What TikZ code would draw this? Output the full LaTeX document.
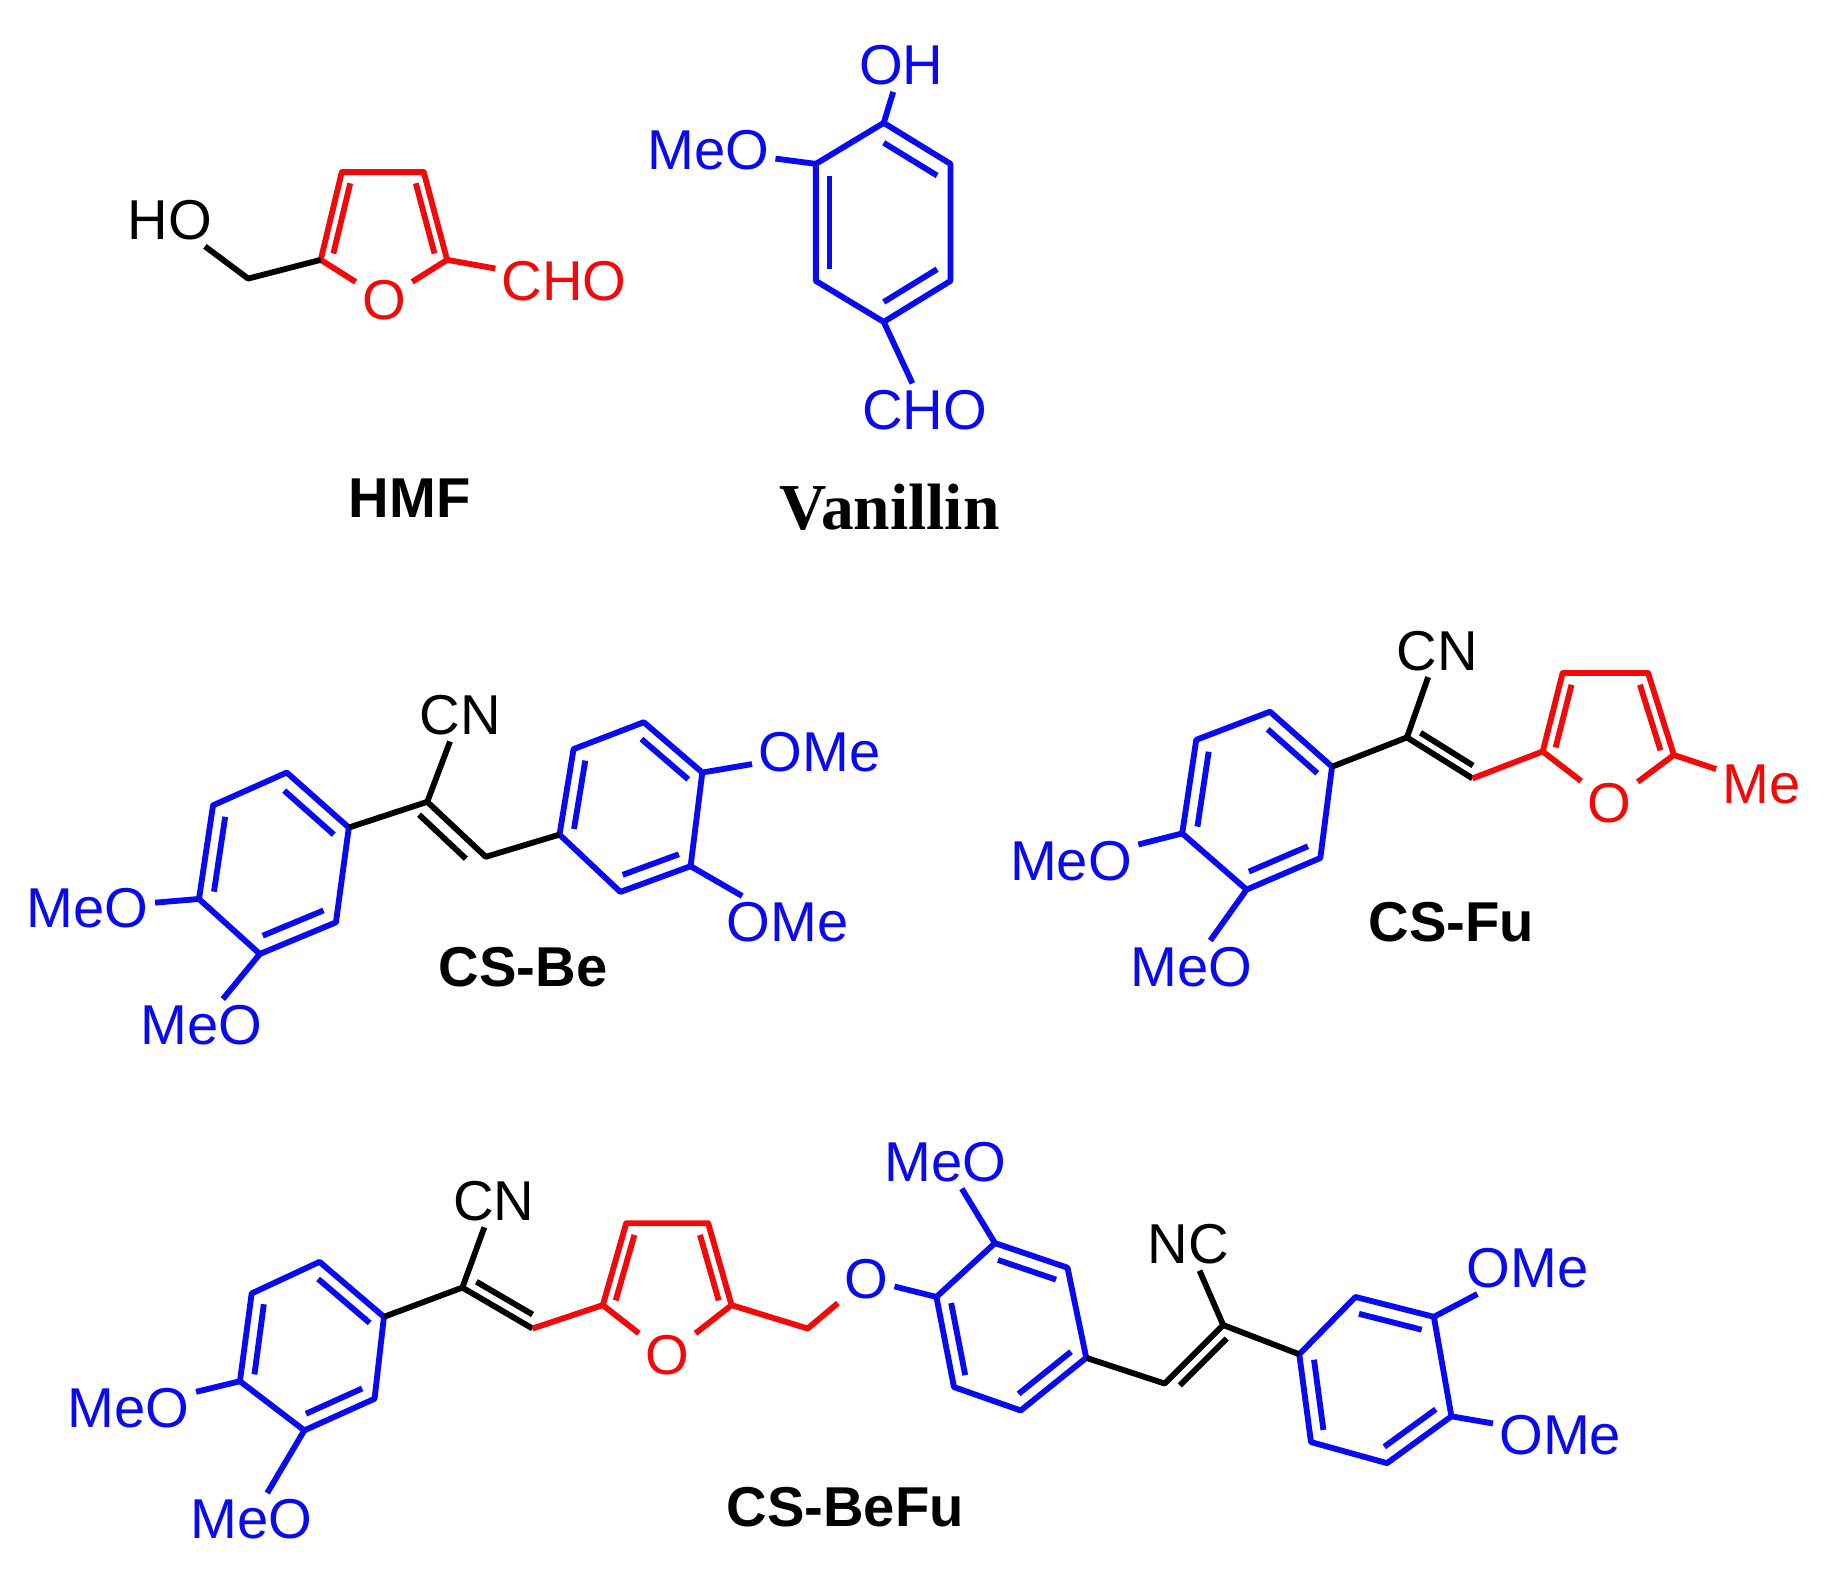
\documentclass[tikz,border=0pt]{standalone}
\usepackage{fontspec}
\setmainfont{Liberation Sans}
\newfontfamily\serifv{Liberation Serif}
\usetikzlibrary{calc}
\definecolor{cb}{RGB}{10,10,240}
\definecolor{cr}{RGB}{240,10,10}
\newcommand{\dbx}[3]{\draw ($(#1)!0.2!(#3)$) -- ($(#2)!0.2!(#3)$);}
\begin{document}
\begin{tikzpicture}[x=0.5pt,y=-0.5pt,line width=2.5pt,line join=round,
  atm/.style={inner sep=1.5pt,font=\fontsize{24}{27}\selectfont},
  nm/.style={font=\fontsize{24}{28}\selectfont\bfseries}]
\useasboundingbox (0,0) rectangle (1560,1340);
% ---------- HMF ----------
\begin{scope}[cr]
\coordinate (h2) at (274,222); \coordinate (h3) at (292,147); \coordinate (h4) at (362,147); \coordinate (h5) at (382,222);
\node[atm,cr] (hO) at (328,256) {O};
\coordinate (hc) at (328,195);
\draw (hO) -- (h2) -- (h3) -- (h4) -- (h5) -- (hO);
\dbx{h2}{h3}{hc} \dbx{h4}{h5}{hc}
\node[atm,cr] (hcho) at (482,240) {CHO};
\draw (h5) -- (hcho);
\end{scope}
\node[atm] (hho) at (145,188) {HO};
\coordinate (hch2) at (212,238);
\draw (hho) -- (hch2) -- (h2);
\node[nm] (hmf) at (350,426) {HMF};
% ---------- Vanillin ----------
\begin{scope}[cb]
\coordinate (v1) at (755,105); \coordinate (v2) at (812,140); \coordinate (v3) at (812,240);
\coordinate (v4) at (755,275); \coordinate (v5) at (697,240); \coordinate (v6) at (697,140);
\coordinate (vc) at (755,190);
\draw (v1)--(v2)--(v3)--(v4)--(v5)--(v6)--cycle;
\dbx{v1}{v2}{vc} \dbx{v3}{v4}{vc} \dbx{v5}{v6}{vc}
\node[atm,cb] (voh) at (770,56) {OH};
\node[atm,cb] (vmeo) at (605,128) {MeO};
\node[atm,cb] (vcho) at (790,350) {CHO};
\draw (v1) -- (voh); \draw (v6) -- (vmeo); \draw (v4) -- (vcho);
\end{scope}
\node[font=\fontsize{28}{32}\selectfont\serifv\bfseries] (van) at (760,433) {Vanillin};
% ---------- CS-Be ----------
\begin{scope}[cb]
\coordinate (a1) at (245,660); \coordinate (a2) at (298,707); \coordinate (a3) at (287,788);
\coordinate (a4) at (222,815); \coordinate (a5) at (170,768); \coordinate (a6) at (182,688);
\coordinate (ac) at (234,737);
\draw (a1)--(a2)--(a3)--(a4)--(a5)--(a6)--cycle;
\dbx{a1}{a2}{ac} \dbx{a3}{a4}{ac} \dbx{a5}{a6}{ac}
\node[atm,cb] (am1) at (75,776) {MeO};
\node[atm,cb] (am2) at (172,876) {MeO};
\draw (a5) -- (am1); \draw (a4) -- (am2);
\coordinate (b1) at (478,713); \coordinate (b2) at (490,640); \coordinate (b3) at (550,617);
\coordinate (b4) at (600,660); \coordinate (b5) at (590,740); \coordinate (b6) at (530,762);
\coordinate (bc) at (540,689);
\draw (b1)--(b2)--(b3)--(b4)--(b5)--(b6)--cycle;
\dbx{b3}{b4}{bc} \dbx{b5}{b6}{bc} \dbx{b1}{b2}{bc}
\node[atm,cb] (bm1) at (700,643) {OMe};
\node[atm,cb] (bm2) at (673,788) {OMe};
\draw (b4) -- (bm1); \draw (b5) -- (bm2);
\end{scope}
\coordinate (ca) at (365,685); \coordinate (cb1) at (415,732); \coordinate (cx) at (330,740);
\node[atm] (acn) at (393,611) {CN};
\draw (a2) -- (ca) -- (cb1) -- (b1); \draw (ca) -- (acn);
\dbx{ca}{cb1}{cx}
\node[nm] (csbe) at (447,826) {CS-Be};
% ---------- CS-Fu ----------
\begin{scope}[cb]
\coordinate (f1) at (1085,608); \coordinate (f2) at (1138,655); \coordinate (f3) at (1128,733);
\coordinate (f4) at (1065,760); \coordinate (f5) at (1010,712); \coordinate (f6) at (1022,632);
\coordinate (fc) at (1075,683);
\draw (f1)--(f2)--(f3)--(f4)--(f5)--(f6)--cycle;
\dbx{f1}{f2}{fc} \dbx{f3}{f4}{fc} \dbx{f5}{f6}{fc}
\node[atm,cb] (fm1) at (915,736) {MeO};
\node[atm,cb] (fm2) at (1018,826) {MeO};
\draw (f5) -- (fm1); \draw (f4) -- (fm2);
\end{scope}
\begin{scope}[cr]
\coordinate (g2) at (1318,642); \coordinate (g3) at (1335,575); \coordinate (g4) at (1408,575); \coordinate (g5) at (1430,645);
\node[atm,cr] (gO) at (1375,686) {O};
\coordinate (gc) at (1373,625);
\draw (gO) -- (g2) -- (g3) -- (g4) -- (g5) -- (gO);
\dbx{g2}{g3}{gc} \dbx{g4}{g5}{gc}
\node[atm,cr] (gme) at (1505,670) {Me};
\draw (g5) -- (gme);
\end{scope}
\coordinate (fa) at (1202,630); \coordinate (fb) at (1258,665); \coordinate (fx) at (1260,610);
\node[atm] (fcn) at (1228,556) {CN};
\draw (f2) -- (fa) -- (fb); \draw (fa) -- (fcn);
\draw[cr] (fb) -- (g2);
\dbx{fa}{fb}{fx}
\node[nm] (csfu) at (1240,788) {CS-Fu};
% ---------- CS-BeFu ----------
\begin{scope}[cb]
\coordinate (p1) at (273,1078); \coordinate (p2) at (328,1125); \coordinate (p3) at (320,1195);
\coordinate (p4) at (260,1222); \coordinate (p5) at (205,1180); \coordinate (p6) at (215,1105);
\coordinate (pc) at (267,1151);
\draw (p1)--(p2)--(p3)--(p4)--(p5)--(p6)--cycle;
\dbx{p1}{p2}{pc} \dbx{p3}{p4}{pc} \dbx{p5}{p6}{pc}
\node[atm,cb] (pm1) at (110,1203) {MeO};
\node[atm,cb] (pm2) at (215,1298) {MeO};
\draw (p5) -- (pm1); \draw (p4) -- (pm2);
\coordinate (q1) at (800,1108); \coordinate (q2) at (850,1062); \coordinate (q3) at (912,1083);
\coordinate (q4) at (928,1160); \coordinate (q5) at (872,1205); \coordinate (q6) at (815,1185);
\coordinate (qc) at (863,1134);
\draw (q1)--(q2)--(q3)--(q4)--(q5)--(q6)--cycle;
\dbx{q2}{q3}{qc} \dbx{q4}{q5}{qc} \dbx{q6}{q1}{qc}
\node[atm,cb] (qm) at (808,993) {MeO};
\draw (q2) -- (qm);
\node[atm,cb] (qo) at (740,1093) {O};
\draw (qo) -- (q1);
\coordinate (r1) at (1110,1157); \coordinate (r2) at (1158,1108); \coordinate (r3) at (1225,1125);
\coordinate (r4) at (1240,1210); \coordinate (r5) at (1185,1250); \coordinate (r6) at (1120,1232);
\coordinate (rc) at (1173,1180);
\draw (r1)--(r2)--(r3)--(r4)--(r5)--(r6)--cycle;
\dbx{r2}{r3}{rc} \dbx{r4}{r5}{rc} \dbx{r6}{r1}{rc}
\node[atm,cb] (rm1) at (1305,1083) {OMe};
\node[atm,cb] (rm2) at (1333,1226) {OMe};
\draw (r3) -- (rm1); \draw (r4) -- (rm2);
\end{scope}
\begin{scope}[cr]
\coordinate (u2) at (515,1115); \coordinate (u3) at (535,1045); \coordinate (u4) at (605,1045); \coordinate (u5) at (625,1115);
\node[atm,cr] (uO) at (570,1158) {O};
\coordinate (uc) at (570,1095);
\draw (uO) -- (u2) -- (u3) -- (u4) -- (u5) -- (uO);
\dbx{u2}{u3}{uc} \dbx{u4}{u5}{uc}
\coordinate (uch) at (690,1135);
\draw (u5) -- (uch) -- (qo);
\end{scope}
\coordinate (pa) at (395,1100); \coordinate (pb) at (455,1135); \coordinate (px) at (455,1075);
\node[atm] (pcn) at (422,1026) {CN};
\draw (p2) -- (pa) -- (pb); \draw (pa) -- (pcn);
\draw[cr] (pb) -- (u2);
\dbx{pa}{pb}{px}
\coordinate (sa) at (995,1182); \coordinate (sb) at (1045,1132); \coordinate (sx) at (1060,1190);
\node[atm] (snc) at (1015,1063) {NC};
\draw (q4) -- (sa) -- (sb) -- (r1); \draw (sb) -- (snc);
\dbx{sa}{sb}{sx}
\node[nm] (csbefu) at (722,1288) {CS-BeFu};
\end{tikzpicture}
\end{document}
